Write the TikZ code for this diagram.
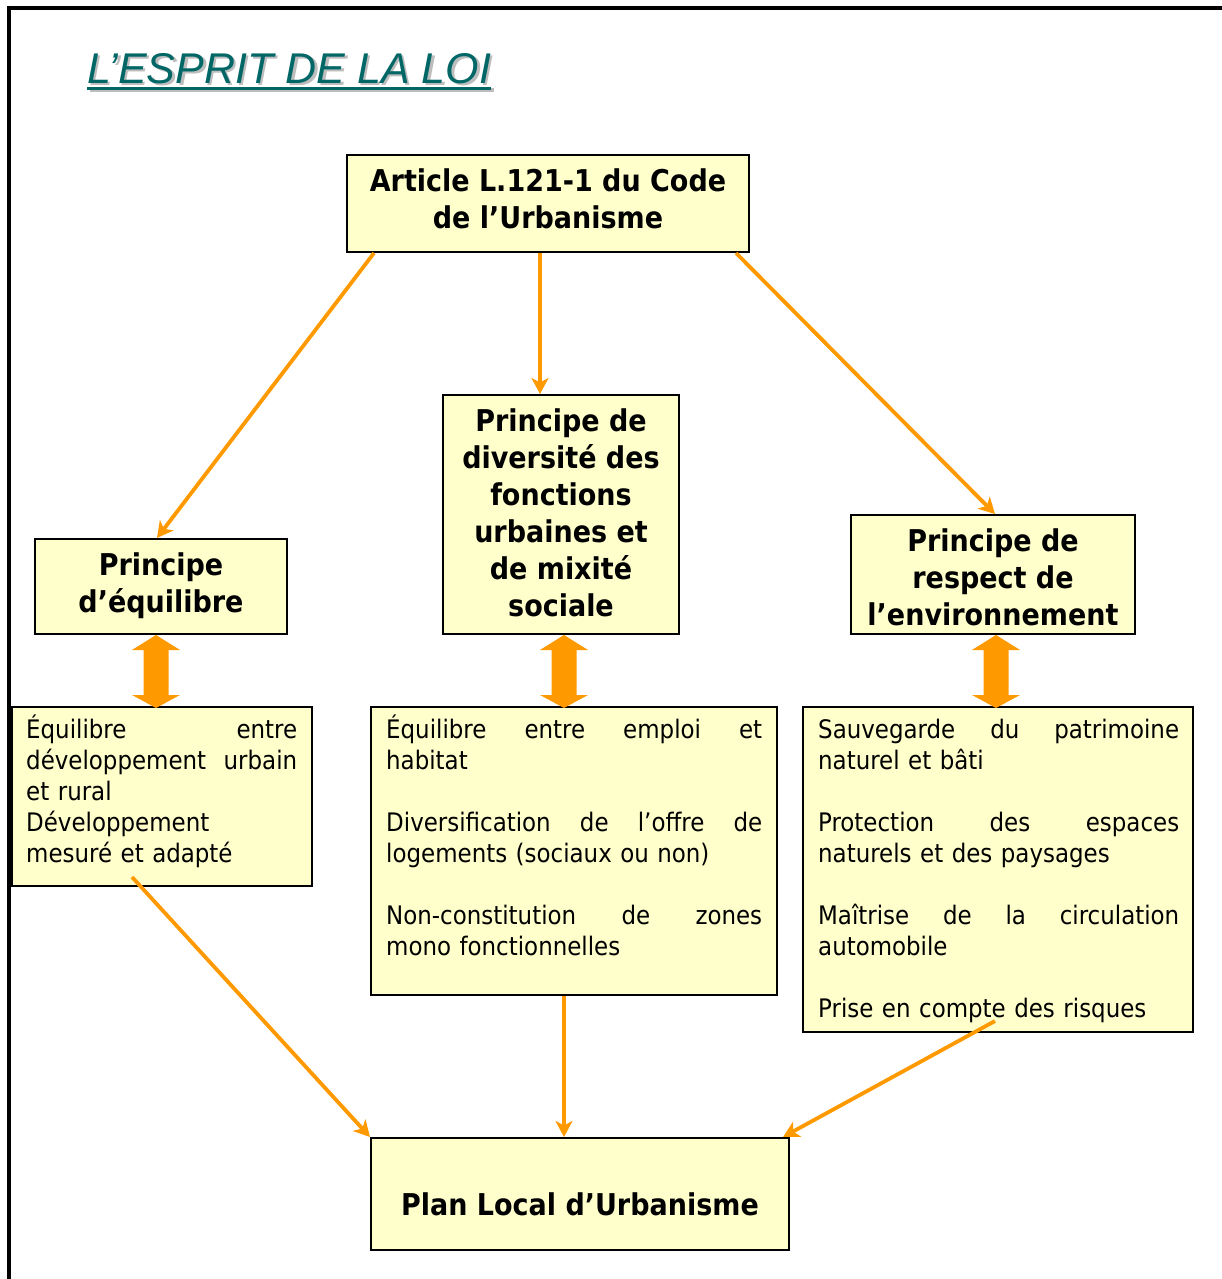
\documentclass[tikz,border=0pt]{standalone}
\usepackage{fontspec}
\setmainfont{DejaVu Sans Condensed}[BoldFont={DejaVu Sans Condensed Bold}]
\newfontfamily\titlefont{Liberation Sans}
\usetikzlibrary{arrows.meta,calc}
\definecolor{boxfill}{HTML}{FFFFCC}
\definecolor{orng}{HTML}{FF9900}
\definecolor{tealt}{HTML}{006666}
\definecolor{shad}{HTML}{BDBDBD}
\newcommand\jl[2]{\makebox[#1][l]{#2}}
\newcommand\dblarr[3]{%
  \fill[orng] (#1,#2) -- (#1+24,#2+15) -- (#1+12.5,#2+15) -- (#1+12.5,#3-13)
   -- (#1+24,#3-13) -- (#1,#3) -- (#1-24,#3-13) -- (#1-12.5,#3-13)
   -- (#1-12.5,#2+15) -- (#1-24,#2+15) -- cycle;}
\begin{document}
\begin{tikzpicture}[x=1pt,y=-1pt,
  box/.style={draw=black,line width=2pt,fill=boxfill,rectangle,inner sep=0pt},
  head/.style={font=\fontsize{30}{37}\selectfont\bfseries,align=center,inner sep=0pt,anchor=north},
  body/.style={font=\fontsize{25.5}{31}\selectfont,align=left,inner sep=0pt,anchor=north west},
  link/.style={draw=orng,line width=3.8pt,-{Stealth[length=16pt,width=17pt,inset=4.5pt]}},
  ttl/.style={font=\titlefont\itshape\fontsize{43}{50}\selectfont,inner sep=0pt,anchor=base west}]

\useasboundingbox (0,0) rectangle (1221,1279);
\fill[white] (0,0) rectangle (1221,1279);
\draw[line width=4pt] (1240,8.5) -- (8.5,8.5) -- (8.5,1300);

% title
\node[ttl,text=shad] (tshadow) at (89.5,85.5) {L’ESPRIT DE LA LOI};
\fill[shad] ($(tshadow.base west)+(0,3)$) rectangle ($(tshadow.base east)+(0,6.5)$);
\node[ttl,text=tealt] (title) at (87,84) {L’ESPRIT DE LA LOI};
\fill[tealt] ($(title.base west)+(0,3)$) rectangle ($(title.base east)+(0,6.5)$);

% boxes
\node[box,minimum width=402pt,minimum height=97pt] (art) at (548,203.5) {};
\node[box,minimum width=252pt,minimum height=95pt] (eq) at (161,586.5) {};
\node[box,minimum width=236pt,minimum height=239pt] (div) at (561,514.5) {};
\node[box,minimum width=284pt,minimum height=119pt] (env) at (993,574.5) {};
\node[box,minimum width=300pt,minimum height=179pt] (teq) at (162,796.5) {};
\node[box,minimum width=406pt,minimum height=288pt] (tdiv) at (574,851) {};
\node[box,minimum width=390pt,minimum height=325pt] (tenv) at (998,869.5) {};
\node[box,minimum width=418pt,minimum height=112pt] (plu) at (580,1194) {};

% heading texts
\node[head] (arttxt) at (548,163) {\rule{0pt}{28pt}Article L.121-1 du Code\\de l’Urbanisme};
\node[head] (eqtxt) at (161,547) {\rule{0pt}{28pt}Principe\\d’équilibre};
\node[head] (divtxt) at (561,403) {\rule{0pt}{28pt}Principe de\\diversité des\\fonctions\\urbaines et\\de mixité\\sociale};
\node[head] (envtxt) at (993,523) {\rule{0pt}{28pt}Principe de\\respect de\\l’environnement};
\node[head] (plutxt) at (580,1187) {\rule{0pt}{28pt}Plan Local d’Urbanisme};

% body texts
\node[body,text width=271pt] (teqtxt) at (26,715) {\rule{0pt}{23pt}\jl{271pt}{Équilibre\hfill entre}\\
  \jl{271pt}{développement\hfill urbain}\\ et rural\\ Développement\\ mesuré et adapté};
\node[body,text width=376pt] (tdivtxt) at (386,715) {\rule{0pt}{23pt}\jl{376pt}{Équilibre\hfill entre\hfill emploi\hfill et}\\
  habitat\\[31pt] \jl{376pt}{Diversification\hfill de\hfill l’offre\hfill de}\\ logements (sociaux ou non)\\[31pt]
  \jl{376pt}{Non-constitution\hfill de\hfill zones}\\ mono fonctionnelles};
\node[body,text width=361pt] (tenvtxt) at (818,715) {\rule{0pt}{23pt}\jl{361pt}{Sauvegarde\hfill du\hfill patrimoine}\\
  naturel et bâti\\[31pt] \jl{361pt}{Protection\hfill des\hfill espaces}\\ naturels et des paysages\\[31pt]
  \jl{361pt}{Maîtrise\hfill de\hfill la\hfill circulation}\\ automobile\\[31pt] Prise en compte des risques};

% double arrows
\dblarr{156}{635}{708}
\dblarr{564}{635}{708}
\dblarr{996}{635}{708}

% connectors
\draw[link] ([xshift=28pt]art.south west) -- ([xshift=-4pt]eq.north);
\draw[link] ([xshift=-8pt]art.south) -- ([xshift=-21pt]div.north);
\draw[link] ([xshift=-14pt]art.south east) -- ([xshift=2pt]env.north);
\draw[link] ([xshift=-30pt,yshift=10pt]teq.south) -- (plu.north west);
\draw[link] ([xshift=-10pt]tdiv.south) -- ([xshift=-16pt]plu.north);
\draw[link] ([xshift=-3pt,yshift=12pt]tenv.south) -- ([xshift=-7pt]plu.north east);
\end{tikzpicture}
\end{document}
